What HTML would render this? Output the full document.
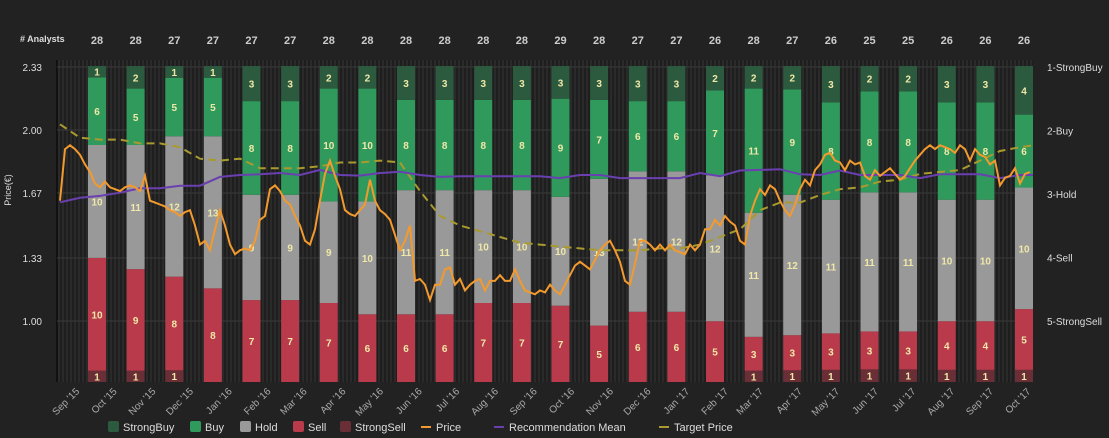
<!DOCTYPE html>
<html><head><meta charset="utf-8"><style>
html,body{margin:0;padding:0;background:#222;}
svg{display:block;font-family:"Liberation Sans",Arial,sans-serif;}
</style></head><body>
<svg id="chart" width="1109" height="438" viewBox="0 0 1109 438" xmlns="http://www.w3.org/2000/svg">
<defs>
<pattern id="stripes" width="4" height="10" patternUnits="userSpaceOnUse">
<rect width="4" height="10" fill="#1e1e1e"/><rect x="2" width="2" height="10" fill="#2a2a2a"/>
</pattern>
</defs>
<rect width="1109" height="438" fill="#222"/>
<rect x="57" y="60" width="976" height="322" fill="url(#stripes)"/>
<line x1="57" y1="60" x2="57" y2="382" stroke="#111" stroke-width="2"/>
<text x="20" y="42" fill="#ddd" font-size="9" font-weight="bold">#  Analysts</text>
<text transform="translate(11,190) rotate(-90)" fill="#ddd" font-size="9" text-anchor="middle">Price(€)</text>
<g id="grid"></g><g id="bars"></g><g id="lines"></g><g id="axes"></g><g id="legend"></g>
</svg>
<script>
const counts=[28,28,27,27,27,27,28,28,28,28,28,28,29,28,27,27,26,28,27,26,25,25,26,26,26];
const strongBuy=[1,2,1,1,3,3,2,2,3,3,3,3,3,3,3,3,2,2,2,3,2,2,3,3,4];
const buy=[6,5,5,5,8,8,10,10,8,8,8,8,9,7,6,6,7,11,9,8,8,8,8,8,6];
const hold=[10,11,12,13,9,9,9,10,11,11,10,10,10,13,12,12,12,11,12,11,11,11,10,10,10];
const sell=[10,9,8,8,7,7,7,6,6,6,7,7,7,5,6,6,5,3,3,3,3,3,4,4,5];
const strongSell=[1,1,1,0,0,0,0,0,0,0,0,0,0,0,0,0,0,1,1,1,1,1,1,1,1];
const monthLabels=["Sep '15","Oct '15","Nov '15","Dec '15","Jan '16","Feb '16","Mar '16","Apr '16","May '16","Jun '16","Jul '16","Aug '16","Sep '16","Oct '16","Nov '16","Dec '16","Jan '17","Feb '17","Mar '17","Apr '17","May '17","Jun '17","Jul '17","Aug '17","Sep '17","Oct '17"];
const monthStartDays=[16,46,77,107,138,169,198,229,259,290,320,351,382,412,443,473,504,535,563,594,624,655,685,716,747,777];
const priceTicks=[1.00,1.33,1.67,2.00,2.33];
const recTicks=["1-StrongBuy","2-Buy","3-Hold","4-Sell","5-StrongSell"];
const priceStepDays=4;
const price=[1.63,1.90,1.92,1.90,1.87,1.82,1.78,1.72,1.70,1.73,1.70,1.69,1.68,1.70,1.71,1.70,1.68,1.76,1.63,1.62,1.61,1.60,1.58,1.57,1.55,1.57,1.58,1.50,1.40,1.42,1.37,1.48,1.58,1.50,1.40,1.35,1.37,1.38,1.37,1.42,1.53,1.55,1.69,1.71,1.68,1.63,1.61,1.55,1.50,1.42,1.40,1.48,1.63,1.77,1.84,1.76,1.69,1.58,1.56,1.55,1.58,1.61,1.74,1.63,1.58,1.56,1.53,1.45,1.37,1.42,1.50,1.21,1.22,1.19,1.11,1.19,1.19,1.27,1.28,1.19,1.22,1.16,1.19,1.21,1.22,1.16,1.21,1.21,1.24,1.21,1.21,1.27,1.21,1.16,1.15,1.14,1.16,1.15,1.19,1.16,1.14,1.19,1.24,1.29,1.31,1.29,1.27,1.32,1.37,1.40,1.42,1.37,1.31,1.21,1.19,1.30,1.42,1.42,1.40,1.37,1.40,1.37,1.40,1.37,1.36,1.35,1.40,1.37,1.40,1.48,1.48,1.53,1.50,1.55,1.52,1.50,1.42,1.40,1.55,1.63,1.69,1.66,1.71,1.69,1.63,1.58,1.55,1.61,1.69,1.74,1.71,1.79,1.82,1.87,1.88,1.84,1.83,1.79,1.84,1.82,1.83,1.76,1.74,1.79,1.76,1.78,1.80,1.77,1.74,1.76,1.80,1.84,1.87,1.90,1.92,1.90,1.92,1.91,1.90,1.88,1.92,1.90,1.84,1.90,1.87,1.86,1.82,1.84,1.71,1.75,1.76,1.80,1.72,1.77,1.78];
const slowStepDays=16;
const targetPrice=[2.03,1.96,1.95,1.95,1.93,1.93,1.91,1.85,1.84,1.85,1.80,1.80,1.80,1.81,1.83,1.83,1.84,1.83,1.68,1.55,1.50,1.47,1.44,1.41,1.40,1.39,1.38,1.37,1.37,1.37,1.38,1.38,1.40,1.44,1.48,1.58,1.62,1.62,1.66,1.69,1.70,1.73,1.74,1.77,1.78,1.79,1.84,1.89,1.91,1.92];
const recMean=[3.13,3.06,3.03,2.98,2.91,2.91,2.87,2.87,2.73,2.70,2.69,2.67,2.70,2.62,2.70,2.71,2.67,2.65,2.70,2.73,2.72,2.72,2.72,2.72,2.72,2.75,2.70,2.70,2.75,2.75,2.75,2.75,2.67,2.72,2.63,2.62,2.61,2.69,2.70,2.63,2.70,2.70,2.70,2.75,2.69,2.69,2.69,2.75,2.70,2.70];

const NS="http://www.w3.org/2000/svg";
const L=57,R=1033,TOP=66,BOT=382;
const xDay=d=>60+d*1.25;
const xBar=i=>97+i*(1024-97)/(counts.length-1);
const yPrice=p=>321-(p-1)*(321-67)/1.33;
const yRec=r=>67+(r-1)*63.5;
const yFrac=f=>BOT-f*(BOT-TOP);
function mk(tag,attrs,parent){const e=document.createElementNS(NS,tag);for(const k in attrs)e.setAttribute(k,attrs[k]);parent.appendChild(e);return e;}
const grid=document.getElementById('grid'),bars=document.getElementById('bars'),lines=document.getElementById('lines'),axes=document.getElementById('axes'),legend=document.getElementById('legend');

priceTicks.forEach((p,i)=>{
  const y=yPrice(p);
  const g=mk('line',{x1:L,x2:R,y1:y,y2:y,stroke:'#3a3a3a','stroke-width':1},grid);
  
  
  const t=mk('text',{x:42,y:y+4,fill:'#ddd','font-size':10,'text-anchor':'end'},axes);
  
  
  t.textContent=p.toFixed(2);
});
recTicks.forEach((r,i)=>{
  const t=mk('text',{x:1047,y:yRec(i+1)+4,fill:'#ddd','font-size':10},axes);
  
  
  t.textContent=r;
});
monthLabels.forEach((m,i)=>{
  const x=xDay(monthStartDays[i]);
  const t=mk('text',{x:0,y:0,fill:'#aaa','font-size':10,'text-anchor':'end',transform:`translate(${x},${392}) rotate(-45)`},axes);
  
  
  t.textContent=m;
});

const segs=[[strongSell,'#6a2e36','strongsell'],[sell,'#b83a4b','sell'],[hold,'#999999','hold'],[buy,'#2f9a5c','buy'],[strongBuy,'#2c5a3e','strongbuy']];
counts.forEach((n,i)=>{
  const cx=xBar(i);
  const ct=mk('text',{x:cx,y:44,fill:'#ccc','font-size':11,'font-weight':'bold','text-anchor':'middle'},axes);
  
  
  ct.textContent=n;
  const tot=segs.reduce((s,sg)=>s+sg[0][i],0);
  let acc=0;
  segs.forEach(sg=>{
    const v=sg[0][i]; if(!v)return;
    const y1=yFrac((acc+v)/tot),y0=yFrac(acc/tot); acc+=v;
    const r=mk('rect',{x:cx-9,y:y1,width:18,height:y0-y1,fill:sg[1]},bars);
    
    
    const t=mk('text',{x:cx,y:(y0+y1)/2+4,fill:'#f0e8a8','font-size':10,'font-weight':'bold','text-anchor':'middle'},bars);
    
    
    t.textContent=v;
  });
});

function pathFrom(arr,step,yf){return arr.map((v,i)=>{const x=Math.min(xDay(i*step),R);return (i?'L':'M')+x.toFixed(1)+','+yf(v).toFixed(1);}).join(' ');}
const tp=mk('path',{d:pathFrom(targetPrice,slowStepDays,yPrice),fill:'none',stroke:'#a89a2e','stroke-width':2,'stroke-dasharray':'8,5'},lines);


const rm=mk('path',{d:pathFrom(recMean,slowStepDays,yRec),fill:'none',stroke:'#6a3fb0','stroke-width':2},lines);


const pl=mk('path',{d:pathFrom(price,priceStepDays,yPrice),fill:'none',stroke:'#f39a2e','stroke-width':2},lines);



const items=[['StrongBuy','box','#2c5a3e',108],['Buy','box','#2f9a5c',190],['Hold','box','#999',240],['Sell','box','#b83a4b',293],['StrongSell','box','#6a2e36',340],['Price','line','#f39a2e',421],['Recommendation Mean','line','#6a3fb0',494],['Target Price','line','#a89a2e',659]];
items.forEach(it=>{
  const g=mk('g',{},legend);
  
  
  if(it[1]=='box')mk('rect',{x:it[3],y:421,width:11,height:11,rx:2,fill:it[2]},g);
  else mk('line',{x1:it[3],x2:it[3]+10,y1:427,y2:427,stroke:it[2],'stroke-width':2},g);
  const t=mk('text',{x:it[3]+15,y:431,fill:'#ddd','font-size':11},g);
  t.textContent=it[0];
});
</script>
</body></html>
